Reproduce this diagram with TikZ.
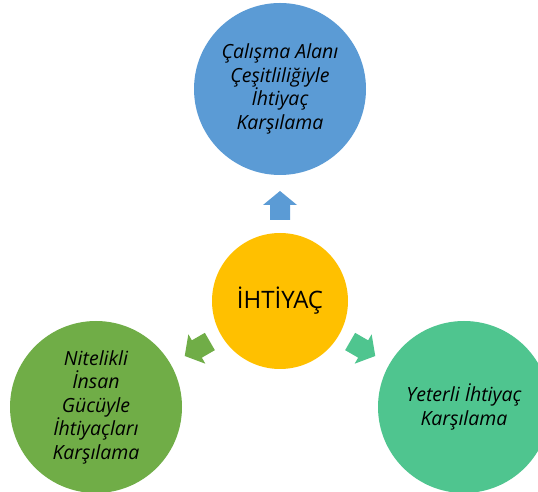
\documentclass[tikz,border=0pt]{standalone}
\usepackage{fontspec}
\setmainfont{Open Sans}
\definecolor{cblue}{HTML}{5B9BD5}
\definecolor{cyellow}{HTML}{FFC000}
\definecolor{cgreen}{HTML}{70AD47}
\definecolor{cteal}{HTML}{4FC58F}
\begin{document}
\begin{tikzpicture}[x=1pt,y=1pt,
  bubble/.style={circle, minimum size=172pt, inner sep=0pt, draw=none, align=center,
    font=\fontsize{19.5}{23.5}\selectfont\itshape}]
\useasboundingbox (0,0) rectangle (538,492);
\begin{scope}
\clip (0,0) rectangle (538,492);
\node[bubble, fill=cblue] (top) at (280,403) {Çalışma Alanı\\Çeşitliliğiyle\\İhtiyaç\\Karşılama};
\node[bubble, fill=cgreen] (left) at (96,85) {Nitelikli\\İnsan\\Gücüyle\\İhtiyaçları\\Karşılama};
\node[bubble, fill=cteal] (right) at (464,85) {Yeterli İhtiyaç\\Karşılama};
\node[circle, minimum size=136pt, inner sep=0pt, fill=cyellow, font=\fontsize{24}{28}\selectfont] (mid) at (280,191) {İHTİYAÇ};
\foreach \ang/\col in {90/cblue, 210/cgreen, -30/cteal}{
  \begin{scope}[shift={(mid.center)}, rotate=\ang]
    \fill[\col] (81,-10) -- (96,-10) -- (96,-17) -- (110,0) -- (96,17) -- (96,10) -- (81,10) -- cycle;
  \end{scope}
}
\end{scope}
\end{tikzpicture}
\end{document}
